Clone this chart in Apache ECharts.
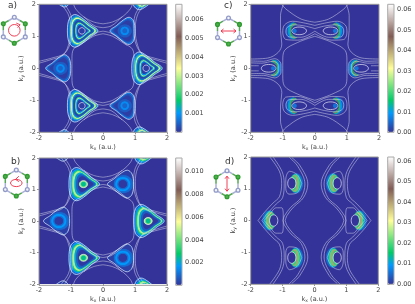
<!DOCTYPE html>
<html><head><meta charset="utf-8">
<style>html,body{margin:0;padding:0;background:#fff}#c{width:415px;height:304px;filter:blur(0.4px)}</style>
<script src="https://cdn.jsdelivr.net/npm/echarts@6/dist/echarts.min.js"></script>
</head><body><div id="c"></div>
<script>
// --- axis / colour-bar values ---
const barTicksA = [0.001,0.002,0.003,0.004,0.005,0.006];
const barTicksB = [0.002,0.004,0.006,0.008,0.010];
const barTicksC = [0,0.01,0.02,0.03,0.04,0.05,0.06];
const barTicksD = [0,0.01,0.02,0.03,0.04,0.05,0.06];
const terrain = ['#333399','#2255bb','#1177dd','#0099ff','#00b3b3','#00cc66','#33d678','#66e07a','#99eb85','#ccf58f','#ffff99','#e6de8b','#ccbe7d','#b39d70','#997c62','#805c54','#997c76','#b39d98','#ccbebb','#e6dedd','#ffffff'];

// --- outline shapes of the lobes (unit size) ---
const triRight = [[1,0],[0.55,0.34],[0.1,0.68],[-0.3,0.85],[-0.6,0.62],[-0.7,0],[-0.6,-0.62],[-0.3,-0.85],[0.1,-0.68],[0.55,-0.34]];
const triLeft = triRight.map(p=>[-p[0],p[1]]);
const oval = [[1,0],[0.87,0.5],[0.5,0.87],[0,1],[-0.5,0.87],[-0.87,0.5],[-1,0],[-0.87,-0.5],[-0.5,-0.87],[0,-1],[0.5,-0.87],[0.87,-0.5]];

// --- lobes: [value, shape, sizeX, sizeY, shiftX, shiftY] ---
const aBright = [[0.0005,triRight,0.56,0.6,-0.04,0],[0.0011,triRight,0.5,0.53,-0.02,0],[0.0024,triRight,0.47,0.5,0,0],[0.0034,triRight,0.44,0.47,0,0],[0.0012,triRight,0.41,0.44,0,0],[0.0004,triRight,0.38,0.41,0.01,0],[0.0001,triRight,0.33,0.36,0.01,0],[0.0014,triRight,0.29,0.32,0.01,0],[0.003,triRight,0.26,0.29,0.01,0],[0.001,triRight,0.23,0.26,0.01,0],[0.0001,triRight,0.19,0.21,0.01,0]];
const aDim = [[0.0003,triLeft,0.46,0.5,0,0],[0.0008,triLeft,0.43,0.47,0,0],[0.0003,triLeft,0.39,0.43,0,0],[0.0001,triLeft,0.33,0.37,0,0],[0.0004,oval,0.22,0.2,0,0],[0.0009,oval,0.13,0.13,0,0],[0.0005,oval,0.07,0.07,0,0]];
const bBright = [[0.0006,triRight,0.58,0.64,-0.04,0],[0.0016,triRight,0.52,0.57,-0.02,0],[0.003,triRight,0.48,0.52,0,0],[0.0048,triRight,0.45,0.48,0.01,0],[0.002,triRight,0.4,0.43,0.03,0],[0.0007,triRight,0.35,0.37,0.05,0],[0.0001,triRight,0.28,0.29,0.06,0],[0.0042,oval,0.13,0.11,0.03,0],[0.0025,oval,0.07,0.07,0.03,0]];
const bDim = [[0.0005,triLeft,0.47,0.52,0,0],[0.0002,triLeft,0.44,0.48,0,0],[0.0009,oval,0.3,0.28,0.02,0],[0.0017,oval,0.23,0.22,0,0],[0.001,oval,0.17,0.16,0,0],[0.0001,oval,0.13,0.12,0,0]];
const cLeft = [[0.003,oval,0.22,0.26,-0.2,0],[0.009,oval,0.17,0.25,-0.17,0],[0.016,oval,0.14,0.24,-0.15,0],[0.045,oval,0.12,0.23,-0.13,0],[0.014,oval,0.11,0.2,-0.11,0],[0,oval,0.26,0.2,0.02,0],[0.006,oval,0.06,0.06,-0.13,0]];
const cRight = cLeft.map(r=>[r[0],r[1],r[2],r[3],-r[4],r[5]]);
const dLeft = [[0.005,oval,0.21,0.31,-0.14,0],[0.012,oval,0.17,0.29,-0.12,0],[0.02,oval,0.14,0.27,-0.1,0],[0.04,oval,0.12,0.25,-0.08,0],[0.018,oval,0.1,0.22,-0.05,0],[0,oval,0.12,0.18,0.01,0]];
const dRight = dLeft.map(r=>[r[0],r[1],r[2],r[3],-r[4],r[5]]);

// --- lobe centres in k-space ---
const aBrightAt = [[1.33,0],[-0.68,1.17],[-0.68,-1.17],[1.33,2.34],[1.33,-2.34]];
const aDimAt = [[-1.33,0],[0.68,1.17],[0.68,-1.17],[-1.33,2.34],[-1.33,-2.34]];
const bBrightAt = [[1.38,0],[-0.64,1.17],[-0.64,-1.17],[1.38,2.34],[1.38,-2.34]];
const bDimAt = [[-1.38,0],[0.62,1.17],[0.62,-1.17],[-1.38,2.34],[-1.38,-2.34]];
const cLeftAt = [[1.43,0],[-0.5,1.17],[-0.5,-1.17]];
const cRightAt = [[-1.43,0],[0.5,1.17],[0.5,-1.17]];
const dLeftAt = [[-1.28,0],[0.71,1.17],[0.71,-1.17]];
const dRightAt = [[1.28,0],[-0.71,1.17],[-0.71,-1.17]];

// --- white contour outlines: [shape, sizeX, sizeY, shiftX, shiftY] ---
const aInnerLoop = [[oval,0.1,0.1,0.02,0],[triRight,0.56,0.6,-0.04,0]];
const aDimLoop = [[triLeft,0.46,0.5,0,0]];
const bInnerLoop = [[oval,0.12,0.11,0.03,0],[triRight,0.56,0.62,-0.03,0]];
const bDimLoop = [[triLeft,0.48,0.52,0,0]];
const cLoop = [[oval,0.23,0.12,0.01,0]];
const cLoopR = [[oval,0.23,0.12,-0.01,0]];
const dLoop = [[oval,0.13,0.18,0,0]];

// --- white contours, upper-left quadrant (mirrored into the others) ---
const abContours = [
 [[0,1.08],[-0.3,1.0],[-0.65,0.78],[-0.92,0.6],[-0.97,0.3],[-0.97,0]],
 [[0,1.39],[-0.3,1.45],[-0.62,1.62],[-0.85,1.85],[-0.92,2]],
 [[-1.3,2],[-1.08,1.67],[-1.01,1.25],[-1.05,0.83],[-1.24,0.42],[-1.66,0.26],[-2,0.16]],
 [[-1.2,2],[-1.0,1.65],[-0.96,1.25],[-1.0,0.85],[-1.2,0.47],[-1.6,0.32],[-2,0.22]],
 [[0,1.27],[-0.25,1.32],[-0.45,1.47],[-0.6,1.62]],
 [[0,1.16],[-0.25,1.1],[-0.5,0.93],[-0.75,0.72]]
];
const cContours = [
 [[0,1.0],[-0.53,0.81],[-0.95,0.55],[-1,0.24],[-1,0]],
 [[0,1.44],[-0.43,1.54],[-0.9,1.85],[-1.03,2]],
 [[-0.98,2],[-1.07,1.65],[-1.07,1.18],[-1.03,0.76],[-1.14,0.5],[-1.47,0.32],[-2,0.29]],
 [[0,1.34],[-0.35,1.42],[-0.7,1.47],[-0.95,1.35],[-1.0,1.13],[-0.9,0.9],[-0.53,0.88],[0,1.08]],
 [[0,1.24],[-0.3,1.32],[-0.65,1.36],[-0.86,1.28],[-0.9,1.13],[-0.8,0.98],[-0.43,0.97],[0,1.16]],
 [[-2,0.23],[-1.6,0.22],[-1.25,0.3],[-1.06,0.14],[-1.06,0]],
 [[-2,0.17],[-1.65,0.16],[-1.3,0.22],[-1.14,0.1],[-1.14,0]],
 [[-2,0.08],[-1.75,0.08]]
];
const dContours = [
 [[-0.71,1.98],[-0.45,1.72],[-0.21,1.15],[-0.34,0.73],[-0.66,0.42],[-0.86,0.16],[-0.92,0]],
 [[-0.8,2],[-0.52,1.7],[-0.3,1.15],[-0.42,0.72],[-0.74,0.42],[-0.94,0.15],[-0.99,0]],
 [[-1.77,0],[-1.55,0.28],[-1.3,0.55],[-1.1,0.75],[-1.03,1.17],[-1.1,1.55],[-1.4,2]],
 [[-1.65,0],[-1.45,0.25],[-1.2,0.52],[-1.0,0.72],[-0.95,1.17],[-1.02,1.55],[-1.3,2]],
 [[-0.4,1.17],[-0.55,1.45],[-0.78,1.55],[-0.9,1.3],[-0.9,1.0],[-0.8,0.83],[-0.55,0.87],[-0.4,1.17]],
 [[-1.58,0],[-1.4,0.2],[-1.2,0.4],[-1.03,0.4],[-0.98,0.2],[-0.98,0]]
];

// --- panels ---
const panels = [
 {name:'a)',nameAt:[8,1],left:39,top:4.3,size:[128,128],barLeft:175.7,vmax:0.0068,ticks:barTicksA,dec:3,contours:abContours,
  lobes:[[aBright,aBrightAt,aInnerLoop],[aDim,aDimAt,aDimLoop]],icon:[14.3,30.3,'circle']},
 {name:'b)',nameAt:[11,157],left:39,top:158,size:[128,127.3],barLeft:175.7,vmax:0.0112,ticks:barTicksB,dec:3,contours:abContours,
  lobes:[[bBright,bBrightAt,bInnerLoop],[bDim,bDimAt,bDimLoop]],icon:[16.3,183,'ellipse']},
 {name:'c)',nameAt:[224,1],left:250.7,top:4.3,size:[128.3,128],barLeft:387.7,vmax:0.0625,ticks:barTicksC,dec:2,contours:cContours,
  lobes:[[cLeft,cLeftAt,cLoop],[cRight,cRightAt,cLoopR]],icon:[228.5,31,'h']},
 {name:'d)',nameAt:[225,157],left:250.7,top:157,size:[127.6,127.3],barLeft:387.7,vmax:0.0621,ticks:barTicksD,dec:2,contours:dContours,
  lobes:[[dLeft,dLeftAt,dLoop],[dRight,dRightAt,dLoop]],icon:[227,183.7,'v']}
];

const txt = '#444', spine='#999', FONT='"DejaVu Sans"';
const grids=[],xAxes=[],yAxes=[],series=[],visualMaps=[],graphics=[];

function place(shape,sx,sy,x,y){return shape.map(p=>[x+p[0]*sx,y+p[1]*sy]);}

panels.forEach(P=>{
  const g=grids.length;
  grids.push({left:P.left,top:P.top,width:P.size[0],height:P.size[1],show:true,backgroundColor:'#333399',borderColor:'transparent',borderWidth:0,z:0});
  const axisBase={type:'value',min:-2,max:2,interval:1,gridIndex:g,nameLocation:'middle',z:1,
    axisLine:{show:false,onZero:false},splitLine:{show:false},axisTick:{length:2,lineStyle:{color:'#666',width:0.7}},
    axisLabel:{fontSize:6.5,color:txt,fontFamily:FONT,margin:3,showMinLabel:true,showMaxLabel:true},
    nameTextStyle:{fontSize:6.5,color:txt,fontFamily:FONT,rich:{s:{fontSize:4.5,color:txt,fontFamily:FONT,verticalAlign:'bottom',padding:[3,0,0,0]}}}};
  xAxes.push(Object.assign({},axisBase,{name:'k{s|x} (a.u.)',nameGap:11}));
  yAxes.push(Object.assign({},axisBase,{name:'k{s|y} (a.u.)',nameGap:10,nameRotate:90}));

  // filled lobes
  const fills=[],strokes=[];
  P.lobes.forEach(([rings,centres,loops])=>{
    centres.forEach(c=>{
      rings.forEach(r=>fills.push({v:r[0],pts:place(r[1],r[2],r[3],c[0]+r[4],c[1]+r[5])}));
      loops.forEach(l=>strokes.push({pts:place(l[0],l[1],l[2],c[0]+l[3],c[1]+l[4])}));
    });
  });
  const fillIndex=series.length;
  series.push({type:'custom',coordinateSystem:'cartesian2d',xAxisIndex:g,yAxisIndex:g,clip:true,silent:true,z:2,animation:false,
    data:fills.map(f=>[f.pts[0][0],f.pts[0][1],f.v]),
    renderItem:(params,api)=>{const f=fills[params.dataIndex];const col=api.visual('color');
      return {type:'polygon',shape:{points:f.pts.map(q=>api.coord(q)),smooth:0.35},style:{fill:col,shadowBlur:1,shadowColor:col}};}});
  series.push({type:'custom',coordinateSystem:'cartesian2d',xAxisIndex:g,yAxisIndex:g,clip:true,silent:true,z:4,animation:false,
    data:strokes.map(f=>[f.pts[0][0],f.pts[0][1]]),
    renderItem:(params,api)=>{const f=strokes[params.dataIndex];
      return {type:'polygon',shape:{points:f.pts.map(q=>api.coord(q)),smooth:0.35},style:{fill:'none',stroke:'rgba(240,240,250,0.85)',lineWidth:0.8}};}});

  // white contours in all four quadrants
  [[1,1],[-1,1],[1,-1],[-1,-1]].forEach(m=>{
    P.contours.forEach(line=>{
      series.push({type:'line',xAxisIndex:g,yAxisIndex:g,showSymbol:false,smooth:0.35,silent:true,z:3,animation:false,
        lineStyle:{color:'rgba(225,225,240,0.7)',width:0.7},data:line.map(p=>[p[0]*m[0],p[1]*m[1]])});
    });
  });

  // frame drawn above the marks
  const fr=grids.length;
  grids.push({left:P.left,top:P.top,width:P.size[0],height:P.size[1],show:true,backgroundColor:'transparent',borderColor:spine,borderWidth:1,z:6});
  xAxes.push({type:'value',gridIndex:fr,min:0,max:1,show:false});
  yAxes.push({type:'value',gridIndex:fr,min:0,max:1,show:false});

  // colour bar
  visualMaps.push({type:'continuous',seriesIndex:fillIndex,dimension:2,min:0,max:P.vmax,calculable:false,hoverLink:false,
    left:P.barLeft,top:P.top,itemWidth:6.3,itemHeight:P.size[1],padding:0,text:['',''],showLabel:false,inRange:{color:terrain}});
  const h=grids.length;
  grids.push({left:P.barLeft,top:P.top,width:6.3,height:P.size[1],show:true,backgroundColor:'transparent',borderColor:'#aaa',borderWidth:1,z:6});
  xAxes.push({type:'value',gridIndex:h,min:0,max:1,show:false});
  yAxes.push({type:'value',gridIndex:h,min:0,max:P.vmax,position:'right',axisLine:{show:false},splitLine:{show:false},
    axisTick:{length:2,lineStyle:{color:'#666',width:0.7},customValues:P.ticks},
    axisLabel:{fontSize:6.5,color:txt,fontFamily:FONT,margin:3,customValues:P.ticks,formatter:v=>Number(v).toFixed(P.dec)}});
  // panel letter
  graphics.push({type:'text',left:P.nameAt[0],top:P.nameAt[1],style:{text:P.name,fontSize:9,fontFamily:FONT,fill:'#333'}});
  // molecule pictogram
  const [cx,cy,kind]=P.icon, w=11, d=13, v=6.6;
  const nodes=[[0,-d,0],[w,-v,1],[w,v,0],[0,d,1],[-w,v,0],[-w,-v,1]];
  const lav='#aab0d8', grn='#2f9a2f';
  nodes.forEach((n,i)=>{const m=nodes[(i+1)%6];const mid=[(n[0]+m[0])/2,(n[1]+m[1])/2];
    [[n,mid],[m,mid]].forEach(([p,q])=>graphics.push({type:'line',z:10,shape:{x1:cx+p[0],y1:cy+p[1],x2:cx+q[0],y2:cy+q[1]},style:{stroke:p[2]?'#55a855':lav,lineWidth:1.5}}));});
  nodes.forEach(n=>graphics.push({type:'circle',z:11,shape:{cx:cx+n[0],cy:cy+n[1],r:1.9},style:{fill:n[2]?'#4caf4c':'#f4f5fb',stroke:n[2]?grn:'#929ac8',lineWidth:1.3}}));
  const red={stroke:'#ee2b44',lineWidth:0.9,fill:'none'};
  if(kind==='circle'){
    graphics.push({type:'circle',z:12,shape:{cx:cx,cy:cy,r:5.8},style:red});
    graphics.push({type:'polyline',z:12,shape:{points:[[cx+2,cy-7.2],[cx+5.8,cy-5.5],[cx+3.2,cy-2.8]]},style:red});
  }else if(kind==='ellipse'){
    graphics.push({type:'ellipse',z:12,shape:{cx:cx,cy:cy,rx:5.8,ry:3.6},style:red});
    graphics.push({type:'polyline',z:12,shape:{points:[[cx+2.6,cy-6.8],[cx-0.8,cy-3.6],[cx+2.6,cy-1.4]]},style:red});
  }else if(kind==='h'){
    graphics.push({type:'polyline',z:12,shape:{points:[[cx-5,cy-2],[cx-7.5,cy],[cx-5,cy+2]]},style:red});
    graphics.push({type:'polyline',z:12,shape:{points:[[cx+5,cy-2],[cx+7.5,cy],[cx+5,cy+2]]},style:red});
    graphics.push({type:'line',z:12,shape:{x1:cx-7.5,y1:cy,x2:cx+7.5,y2:cy},style:red});
  }else{
    graphics.push({type:'polyline',z:12,shape:{points:[[cx-2,cy-5],[cx,cy-7.5],[cx+2,cy-5]]},style:red});
    graphics.push({type:'polyline',z:12,shape:{points:[[cx-2,cy+5],[cx,cy+7.5],[cx+2,cy+5]]},style:red});
    graphics.push({type:'line',z:12,shape:{x1:cx,y1:cy-7.5,x2:cx,y2:cy+7.5},style:red});
  }
});

const chart=echarts.init(document.getElementById('c'),null,{renderer:'canvas'});
chart.setOption({animation:false,backgroundColor:'#fff',grid:grids,xAxis:xAxes,yAxis:yAxes,series:series,visualMap:visualMaps,graphic:graphics,tooltip:{show:false}});
</script></body></html>
